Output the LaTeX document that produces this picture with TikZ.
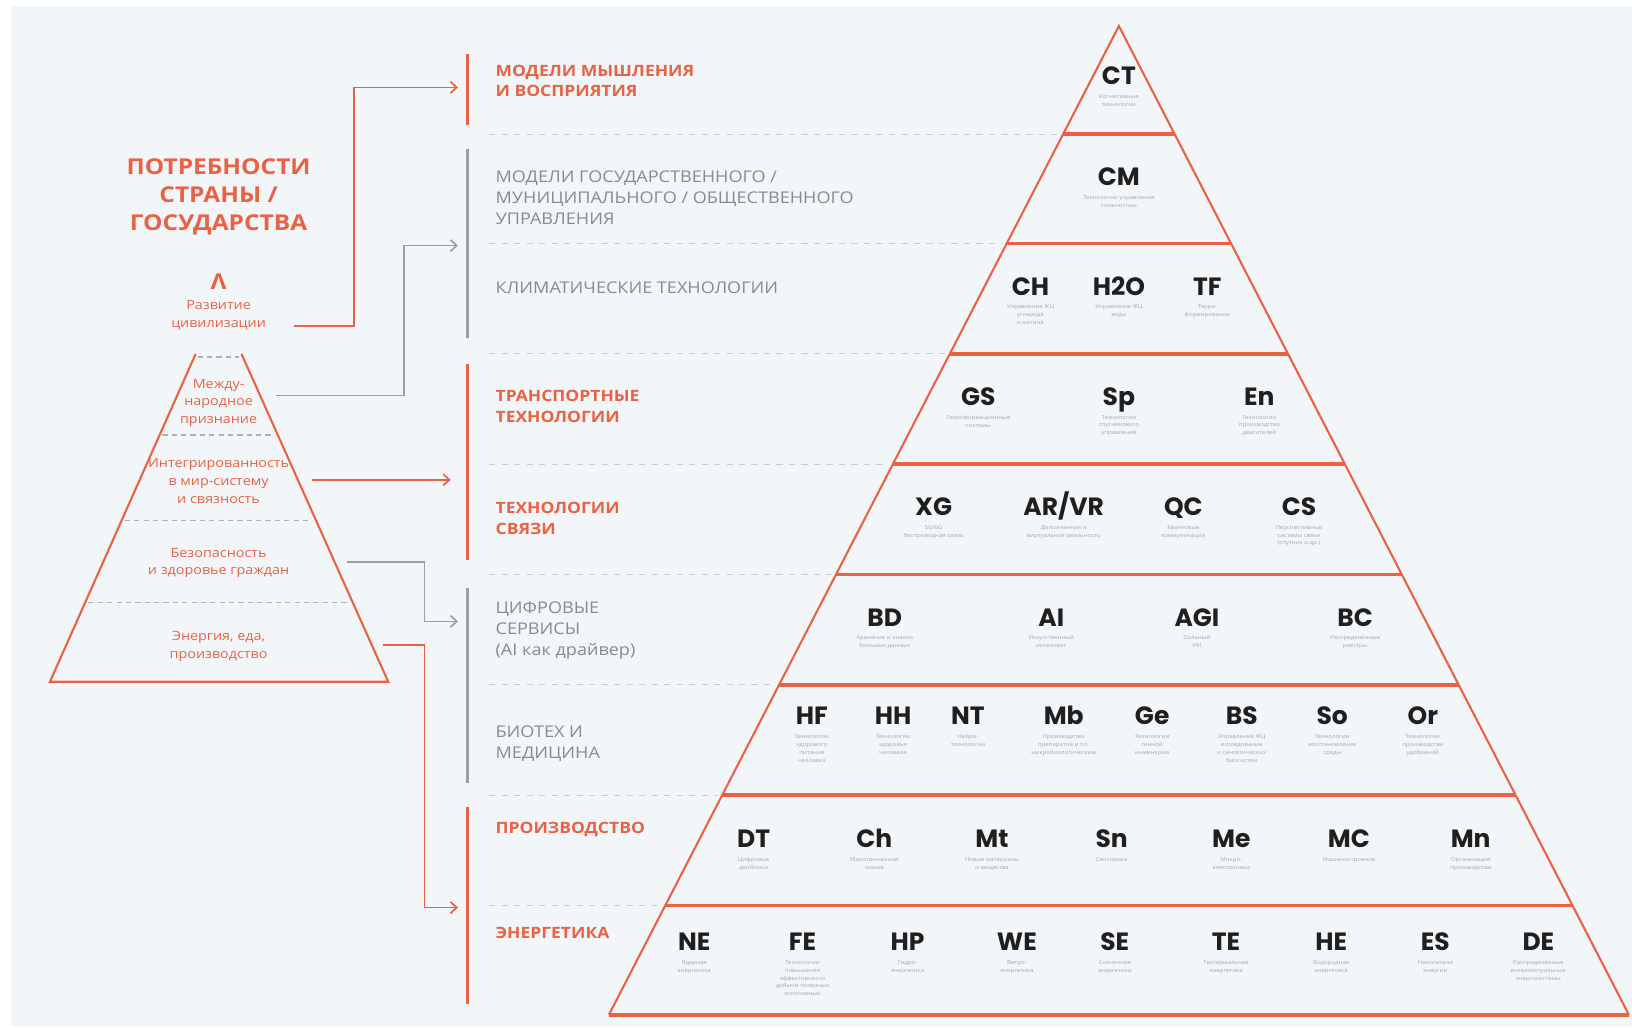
\documentclass[tikz,border=0pt]{standalone}
\usepackage{fontspec}
\setmainfont{Open Sans}[FakeStretch=1.12]
\newfontfamily\labfont{Open Sans}[FakeStretch=1.12]
\newfontfamily\codefont{Poppins}
\usetikzlibrary{arrows.meta}
\definecolor{myred}{HTML}{EA6244}
\definecolor{txtgrey}{HTML}{8A8A8A}
\definecolor{bargrey}{HTML}{9C9EA1}
\definecolor{dashgrey}{HTML}{C9CDD2}
\definecolor{capgrey}{HTML}{A3A6AA}
\definecolor{bgcol}{HTML}{F3F6F9}
\definecolor{codecol}{HTML}{1F1F1F}
\newcommand\techitem[5]{%
  \node[codenode] (#1) at (#2,#3) {#4};
  \node[capnode] (#1c) at ([yshift=-9pt]#1.south) {#5};
}
\begin{document}
\begin{tikzpicture}[x=1pt,y=-1pt,
  outline/.style={draw=myred,line width=2pt,line join=miter},
  bandline/.style={draw=myred,line width=3.6pt},
  dashline/.style={draw=dashgrey,line width=1.1pt,dash pattern=on 6pt off 6pt},
  ldash/.style={draw=bargrey!80,line width=1.3pt,dash pattern=on 5pt off 4pt},
  redbar/.style={draw=myred,line width=3pt},
  greybar/.style={draw=bargrey,line width=3pt},
  redlink/.style={draw=myred,line width=1.6pt,-{Straight Barb[length=6pt,width=11pt,line width=1.6pt]}},
  greylink/.style={draw=bargrey,line width=1.6pt,-{Straight Barb[length=6pt,width=11pt,line width=1.6pt]}},
  redlab/.style={anchor=north west,inner sep=0pt,align=left,text=myred,font=\labfont\bfseries\fontsize{15}{20}\selectfont},
  greylab/.style={anchor=north west,inner sep=0pt,align=left,text=txtgrey,font=\labfont\fontsize{15.5}{20}\selectfont},
  ptext/.style={inner sep=0pt,align=center,text=myred,font=\labfont\fontsize{12.3}{17}\selectfont},
  codenode/.style={inner sep=0pt,text height=17pt,text depth=0pt,text=codecol,font=\codefont\bfseries\fontsize{24}{24}\selectfont},
  capnode/.style={anchor=north,inner sep=0pt,align=center,text=capgrey,font=\labfont\fontsize{5.2}{7.5}\selectfont}
]
\useasboundingbox (0,0) rectangle (1568,987);
\fill[white] (0,0) rectangle (1568,987);
\fill[bgcol] (10.6,5.8) rectangle (1568,987);

% dashed separators and band lines of the big pyramid
\foreach \yy in {129,234,340,446,552,658,764,870}{
  \pgfmathsetmacro\hw{0.515789*(\yy-25)}
  \draw[dashline] (470,\yy) -- ({1075-\hw-4},\yy);
  \draw[bandline] ({1075-\hw},\yy) -- ({1075+\hw},\yy);
}
\coordinate (apex) at (1075,25);
\coordinate (bl) at (585,975);
\coordinate (br) at (1565,975);
\draw[bandline] (bl) -- (br);
\draw[outline] (bl) -- (apex) -- (br);

% vertical bars
\draw[redbar]  (449,52) -- (449,120);
\draw[greybar] (449,143) -- (449,325);
\draw[redbar]  (449,350) -- (449,538);
\draw[greybar] (449,565) -- (449,752);
\draw[redbar]  (449,775) -- (449,965);

% left column labels
\node[redlab]  (l1) at (476,62) {МОДЕЛИ МЫШЛЕНИЯ\\И ВОСПРИЯТИЯ};
\node[greylab] (l2) at (476,164) {МОДЕЛИ ГОСУДАРСТВЕННОГО /\\МУНИЦИПАЛЬНОГО / ОБЩЕСТВЕННОГО\\УПРАВЛЕНИЯ};
\node[greylab] (l3) at (476,271) {КЛИМАТИЧЕСКИЕ ТЕХНОЛОГИИ};
\node[redlab]  (l4) at (476,375) {ТРАНСПОРТНЫЕ\\ТЕХНОЛОГИИ};
\node[redlab]  (l5) at (476,482) {ТЕХНОЛОГИИ\\СВЯЗИ};
\node[greylab] (l6) at (476,578) {ЦИФРОВЫЕ\\СЕРВИСЫ\\(AI как драйвер)};
\node[greylab] (l7) at (476,697) {БИОТЕХ И\\МЕДИЦИНА};
\node[redlab]  (l8) at (476,790) {ПРОИЗВОДСТВО};
\node[redlab]  (l9) at (476,891) {ЭНЕРГЕТИКА};

% left pyramid
\node[inner sep=0pt,align=center,text=myred,font=\labfont\bfseries\fontsize{21}{27}\selectfont] (title) at (210,189) {ПОТРЕБНОСТИ\\СТРАНЫ /\\ГОСУДАРСТВА};
\node[text=myred,inner sep=0pt,font=\labfont\bfseries\fontsize{21}{21}\selectfont] (lam) at (210,271) {Λ};
\node[ptext] (dev) at (210,303) {Развитие\\цивилизации};
\draw[outline] (188,340) -- (48,655) -- (373,655) -- (232,340);
\draw[ldash] (190,343) -- (230,343);
\draw[ldash] (156,418) -- (264,418);
\draw[ldash] (120,500) -- (300,500);
\draw[ldash] (85,579) -- (335,579);
\node[ptext] (intl) at (210,387) {Между-\\народное\\признание};
\node[ptext] (integ) at (210,462) {Интегрированность\\в мир-систему\\и связность};
\node[ptext] (secur) at (210,541) {Безопасность\\и здоровье граждан};
\node[ptext] (enfood) at (210,621) {Энергия, еда,\\производство};

% connectors
\coordinate (s1) at (282,313); \coordinate (t1) at (440,84);
\coordinate (s2) at (265,380); \coordinate (t2) at (440,236);
\coordinate (s3) at (300,461); \coordinate (t3) at (433,461);
\coordinate (s4) at (333,540); \coordinate (t4) at (440,597);
\coordinate (s5) at (368,620); \coordinate (t5) at (440,872);
\draw[redlink]  (s1) -- (340,313) |- (t1);
\draw[greylink] (s2) -- (388,380) |- (t2);
\draw[redlink]  (s3) -- (t3);
\draw[greylink] (s4) -- (408,540) |- (t4);
\draw[redlink]  (s5) -- (408,620) |- (t5);

% technologies
\techitem{ct}{1075}{73}{CT}{Когнитивные\\технологии}
\techitem{cm}{1075}{170}{CM}{Технологии управления\\сложностью}
\techitem{ch}{990}{275}{CH}{Управление ЖЦ\\углерода\\и метана}
\techitem{hto}{1075}{275}{H2O}{Управление ЖЦ\\воды}
\techitem{tf}{1160}{275}{TF}{Терра-\\формирование}
\techitem{gs}{940}{381}{GS}{Геоинформационные\\системы}
\techitem{sp}{1075}{381}{Sp}{Технологии\\спутникового\\управления}
\techitem{en}{1210}{381}{En}{Технологии\\производства\\двигателей}
\techitem{xg}{897}{487}{XG}{5G/6G\\беспроводная связь}
\techitem{arvr}{1022}{487}{AR/VR}{Дополненная и\\виртуальная реальность}
\techitem{qc}{1137}{487}{QC}{Квантовые\\коммуникации}
\techitem{cs}{1248}{487}{CS}{Перспективные\\системы связи\\(спутник и др.)}
\techitem{bd}{850}{593}{BD}{Хранение и анализ\\больших данных}
\techitem{ai}{1010}{593}{AI}{Искусственный\\интеллект}
\techitem{agi}{1150}{593}{AGI}{Сильный\\ИИ}
\techitem{bc}{1302}{593}{BC}{Распределённые\\реестры}
\techitem{hf}{780}{688}{HF}{Технологии\\здорового\\питания\\человека}
\techitem{hh}{858}{688}{HH}{Технологии\\здоровья\\человека}
\techitem{nt}{930}{688}{NT}{Нейро-\\технологии}
\techitem{mb}{1022}{688}{Mb}{Производство\\препаратов и т.п.\\микробиологическим}
\techitem{ge}{1107}{688}{Ge}{Технологии\\генной\\инженерии}
\techitem{bs}{1193}{688}{BS}{Управление ЖЦ\\исследования\\и синтетических\\биосистем}
\techitem{so}{1280}{688}{So}{Технологии\\восстановления\\среды}
\techitem{or}{1367}{688}{Or}{Технологии\\производства\\удобрений}
\techitem{dt}{724}{806}{DT}{Цифровые\\двойники}
\techitem{chm}{840}{806}{Ch}{Малотоннажная\\химия}
\techitem{mt}{953}{806}{Mt}{Новые материалы\\и вещества}
\techitem{sn}{1068}{806}{Sn}{Сенсорика}
\techitem{me}{1183}{806}{Me}{Микро-\\электроника}
\techitem{mc}{1296}{806}{MC}{Машиностроение}
\techitem{mn}{1413}{806}{Mn}{Организация\\производства}
\techitem{ne}{667}{905}{NE}{Ядерная\\энергетика}
\techitem{fe}{771}{905}{FE}{Технологии\\повышения\\эффективности\\добычи полезных\\ископаемых}
\techitem{hp}{872}{905}{HP}{Гидро-\\энергетика}
\techitem{we}{977}{905}{WE}{Ветро-\\энергетика}
\techitem{se}{1071}{905}{SE}{Солнечная\\энергетика}
\techitem{te}{1178}{905}{TE}{Геотермальная\\энергетика}
\techitem{he}{1279}{905}{HE}{Водородная\\энергетика}
\techitem{es}{1379}{905}{ES}{Накопители\\энергии}
\techitem{de}{1478}{905}{DE}{Распределённые\\интеллектуальные\\энергосистемы}
\end{tikzpicture}
\end{document}
